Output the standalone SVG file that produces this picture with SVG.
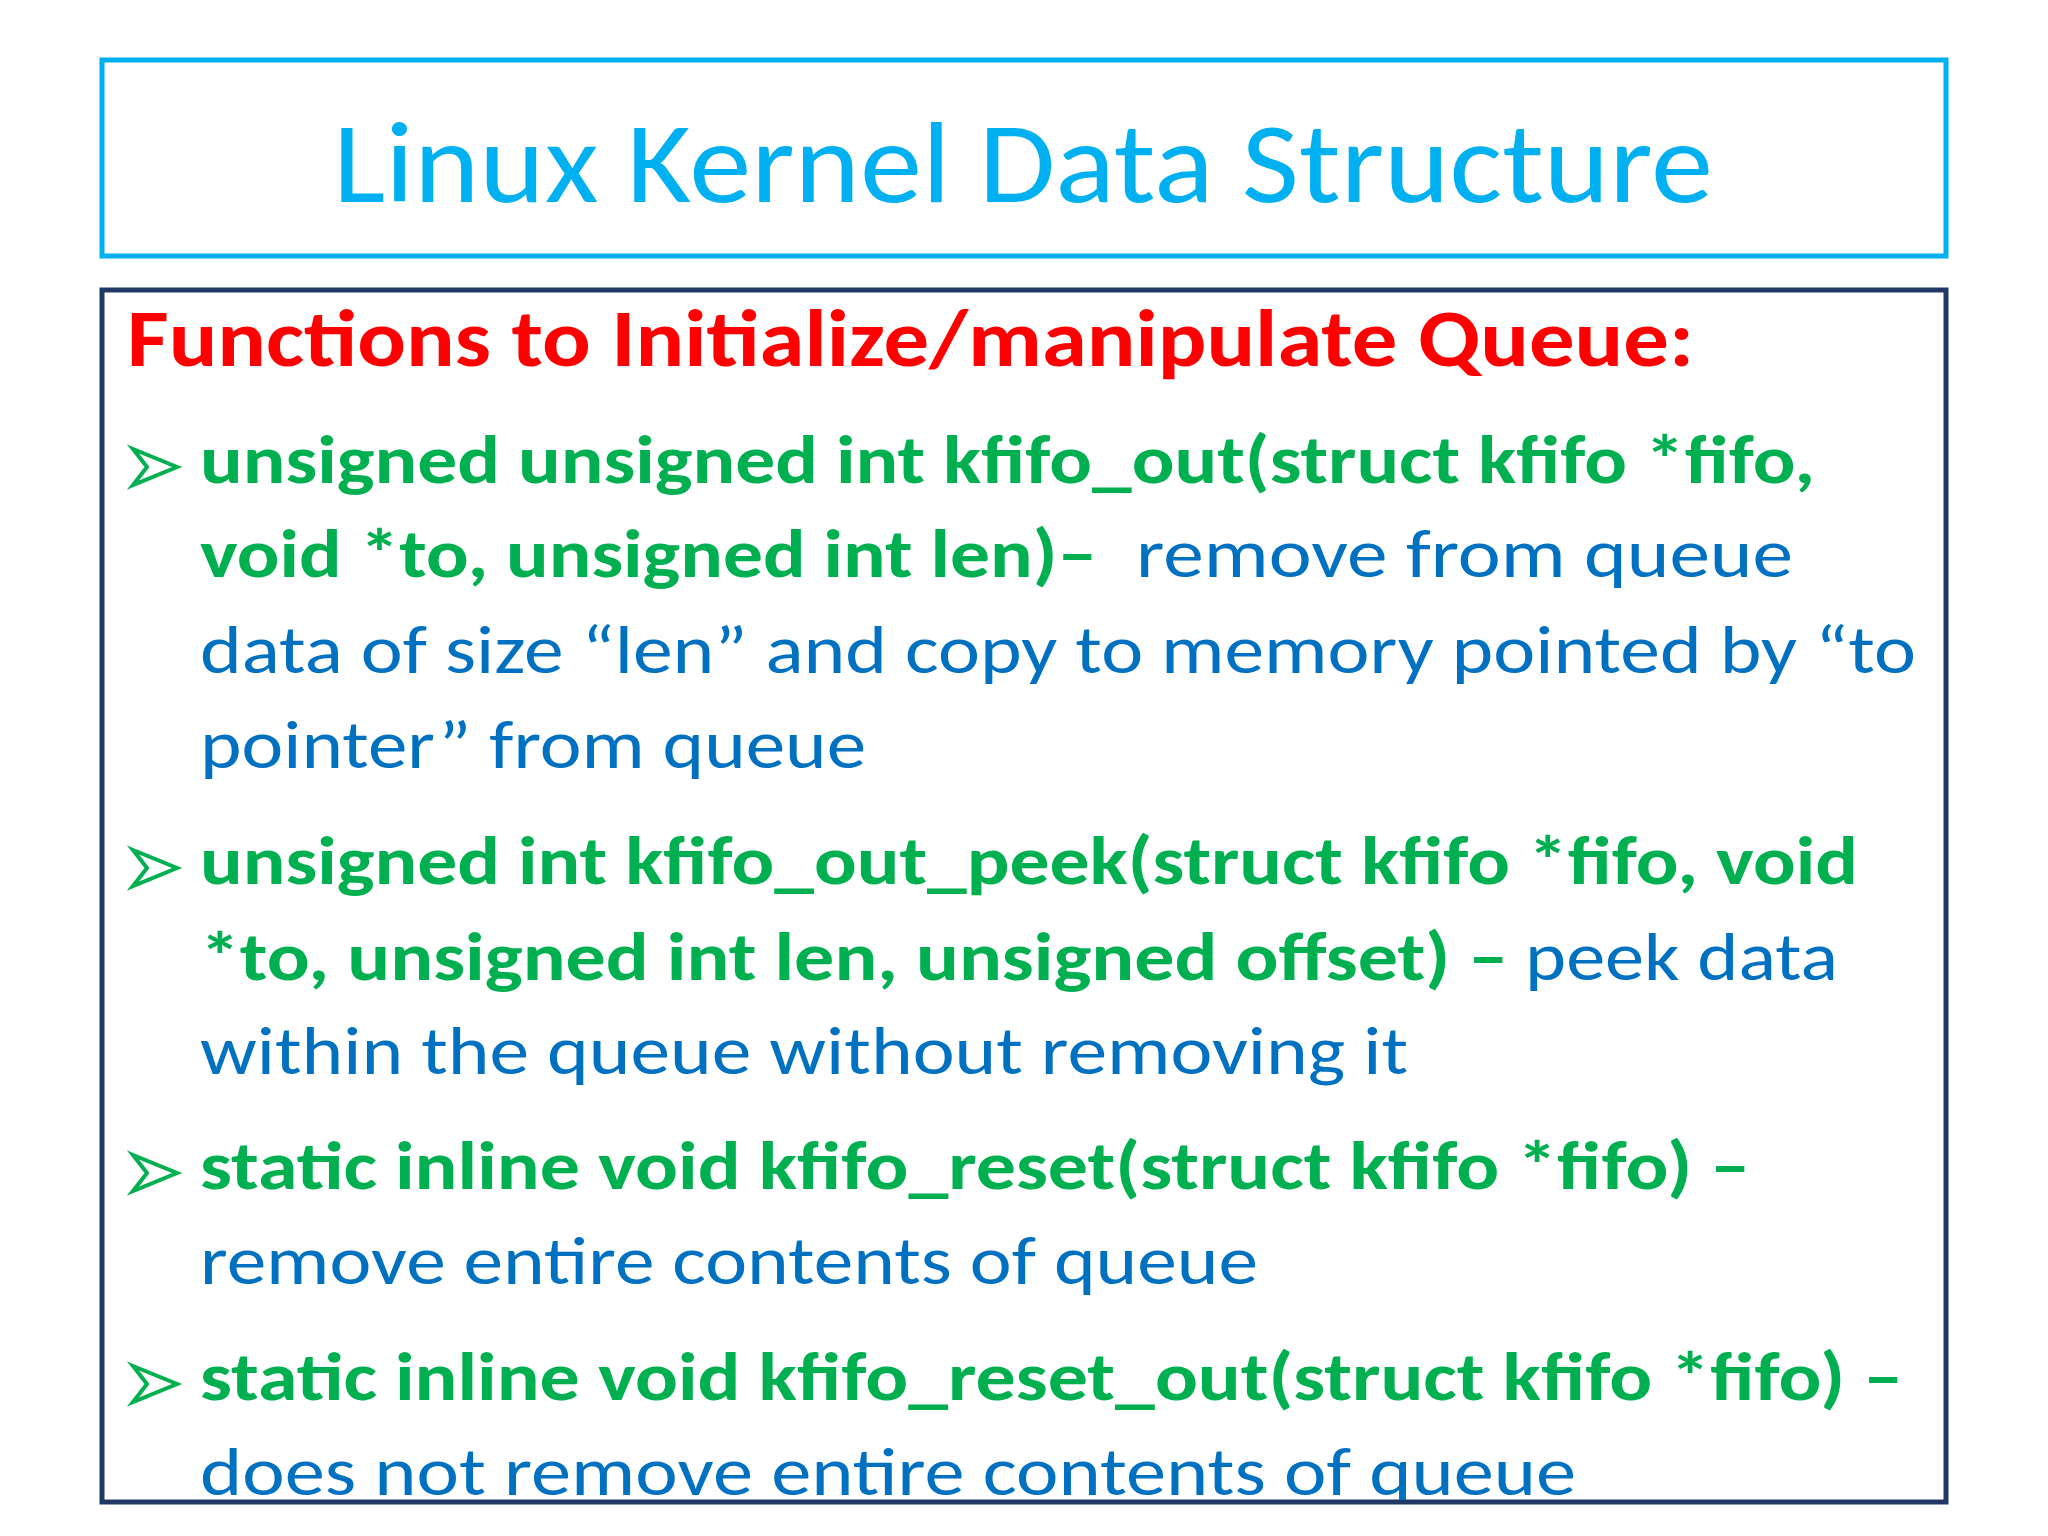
<svg xmlns="http://www.w3.org/2000/svg" width="2048" height="1536" viewBox="0 0 2048 1536">
<style>
.t{font-family:Carlito,"Open Sans","Liberation Sans",sans-serif}
.g{fill:#00B050;font-weight:bold;font-size:68px}
.b{fill:#0070C0;font-size:68px}
.arrow{fill:none;stroke:#00B050;stroke-width:4}
</style>
<defs>
<clipPath id="box"><rect x="104" y="292" width="1840" height="1208"/></clipPath>
<g id="arr"><path class="arrow" d="M0,-28 L44,-10 L0,8 L14,-10 Z"/></g>
</defs>
<rect width="2048" height="1536" fill="#fff"/>
<g id="title">
<rect x="102" y="60" width="1844" height="196" fill="#fff" stroke="#00B0F0" stroke-width="5"/>
<text class="t" x="333" y="202" font-size="116" fill="#00B0F0" textLength="1380" lengthAdjust="spacingAndGlyphs">Linux Kernel Data Structure</text>
</g>
<g id="content">
<rect x="102" y="290" width="1844" height="1212" fill="#fff" stroke="#1F3864" stroke-width="5"/>
<g clip-path="url(#box)">
<text class="t" x="127" y="366" font-size="80" font-weight="bold" fill="#FF0000" textLength="1567" lengthAdjust="spacingAndGlyphs">Functions to Initialize/manipulate Queue:</text>
<use href="#arr" x="133" y="477"/>
<use href="#arr" x="133" y="878"/>
<use href="#arr" x="133" y="1183"/>
<use href="#arr" x="133" y="1394"/>
<text class="t g" x="200" y="483" textLength="1615" lengthAdjust="spacingAndGlyphs">unsigned unsigned int kfifo_out(struct kfifo *fifo,</text>
<text class="t g" x="200" y="577" textLength="897" lengthAdjust="spacingAndGlyphs">void *to, unsigned int len)–</text>
<text class="t b" x="1136" y="577" textLength="657" lengthAdjust="spacingAndGlyphs">remove  from queue</text>
<text class="t b" x="200" y="673" textLength="1716" lengthAdjust="spacingAndGlyphs">data of size “len” and copy to memory pointed by “to</text>
<text class="t b" x="200" y="768" textLength="666" lengthAdjust="spacingAndGlyphs">pointer” from queue</text>
<text class="t g" x="200" y="884" textLength="1658" lengthAdjust="spacingAndGlyphs">unsigned int kfifo_out_peek(struct kfifo *fifo, void</text>
<text class="t g" x="200" y="980" textLength="1308" lengthAdjust="spacingAndGlyphs">*to, unsigned int len, unsigned offset) –</text>
<text class="t b" x="1525" y="980" textLength="313" lengthAdjust="spacingAndGlyphs">peek data</text>
<text class="t b" x="200" y="1074" textLength="1208" lengthAdjust="spacingAndGlyphs">within the queue without removing it</text>
<text class="t g" x="200" y="1189" textLength="1550" lengthAdjust="spacingAndGlyphs">static inline void kfifo_reset(struct kfifo *fifo) –</text>
<text class="t b" x="200" y="1284" textLength="1058" lengthAdjust="spacingAndGlyphs">remove entire contents of queue</text>
<text class="t g" x="200" y="1400" textLength="1703" lengthAdjust="spacingAndGlyphs">static inline void kfifo_reset_out(struct kfifo *fifo) –</text>
<text class="t b" x="200" y="1495" textLength="1376" lengthAdjust="spacingAndGlyphs">does not remove  entire contents of queue</text>
</g>
</g>
</svg>
